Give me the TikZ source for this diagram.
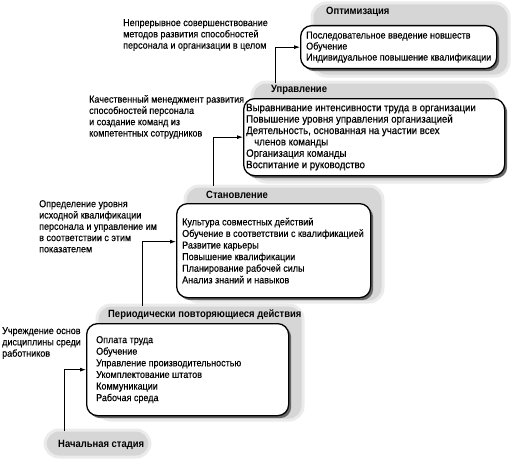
\documentclass[tikz,border=0pt]{standalone}
\usepackage{fontspec}
\setmainfont{Liberation Sans}[FakeStretch=0.9, UprightFeatures={FakeBold=0.4}]
\usetikzlibrary{shadows,arrows.meta}
\tikzset{
  blob/.style={fill=black!16, draw=black!8, line width=3pt, rounded corners=14pt},
  wbox/.style={draw=black, line width=1.3pt, fill=white, rounded corners=11pt,
    anchor=north west, inner sep=0pt,
    drop shadow={shadow xshift=2.5pt, shadow yshift=-2.5pt, fill=black!60, opacity=1}},
  btxt/.style={anchor=west, align=left, inner sep=0pt, font=\fontsize{10}{11}\selectfont},
  ttl/.style={anchor=west, inner sep=0pt, font=\bfseries\fontsize{10.5}{11}\selectfont},
  note/.style={anchor=north west, inner sep=0pt, align=left, font=\fontsize{10}{11.3}\selectfont},
  conn/.style={line width=0.8pt, -{Latex[length=6pt,width=4pt]}}
}
\begin{document}
\begin{tikzpicture}[x=1pt,y=-1pt]
\useasboundingbox (0,0) rectangle (511,460);
% gray blobs
\fill[blob] (312,3) rectangle (509,76);
\fill[blob] (252,82) rectangle (497,182);
\fill[blob] (185,186) rectangle (383,302);
\fill[blob] (97,305) rectangle (303,420);
\fill[blob] (45,430) rectangle (150,457);
% titles
\node[ttl] (t1) at (326,12) {Оптимизация};
\node[ttl] (t2) at (271,90) {Управление};
\node[ttl] (t3) at (206,195) {Становление};
\node[ttl] (t4) at (108,315) {Периодически повторяющиеся действия};
\node[ttl] (t5) at (58,445) {Начальная стадия};
% boxes
\node[wbox, minimum width=196pt, minimum height=43pt] (b1) at (300,25) {};
\node[btxt] (x1) at ([xshift=6pt]b1.west)
 {Последовательное введение новшеств\\Обучение\\Индивидуальное повышение квалификации};
\node[wbox, minimum width=261pt, minimum height=77pt] (b2) at (243,98) {};
\node[btxt, font=\fontsize{10.7}{11.4}\selectfont] (x2) at ([xshift=3pt]b2.west)
 {Выравнивание интенсивности труда в организации\\Повышение уровня управления организацией\\Деятельность, основанная на участии всех\\\hspace*{8pt}членов команды\\Организация команды\\Воспитание и руководство};
\node[wbox, minimum width=194pt, minimum height=94pt] (b3) at (176,203) {};
\node[btxt, font=\fontsize{10}{11.6}\selectfont] (x3) at ([xshift=6pt]b3.west)
 {Культура совместных действий\\Обучение в соответствии с квалификацией\\Развитие карьеры\\Повышение квалификации\\Планирование рабочей силы\\Анализ знаний и навыков};
\node[wbox, minimum width=202pt, minimum height=92pt] (b4) at (86,323) {};
\node[btxt, font=\fontsize{10}{11.6}\selectfont] (x4) at ([xshift=10pt]b4.west)
 {Оплата труда\\Обучение\\Управление производительностью\\Укомплектование штатов\\Коммуникации\\Рабочая среда};
% notes
\node[note] (n1) at (123,19) {Непрерывное совершенствование\\методов развития способностей\\персонала и организации в целом};
\node[note] (n2) at (89,95) {Качественный менеджмент развития\\способностей персонала\\и создание команд из\\компетентных сотрудников};
\node[note] (n3) at (39,200) {Определение уровня\\исходной квалификации\\персонала и управление им\\в соответствии с этим\\показателем};
\node[note] (n4) at (2,327) {Учреждение основ\\дисциплины среди\\работников};
% connectors
\coordinate (s1) at (275,83);
\coordinate (s2) at (213,186);
\coordinate (s3) at (142,306);
\coordinate (s4) at (64,431);
\draw[conn] (s1) |- (b1.west);
\draw[conn] (s2) |- (b2.west);
\draw[conn] (s3) |- ([yshift=9pt]b3.west);
\draw[conn] (s4) |- (b4.west);
\end{tikzpicture}
\end{document}
